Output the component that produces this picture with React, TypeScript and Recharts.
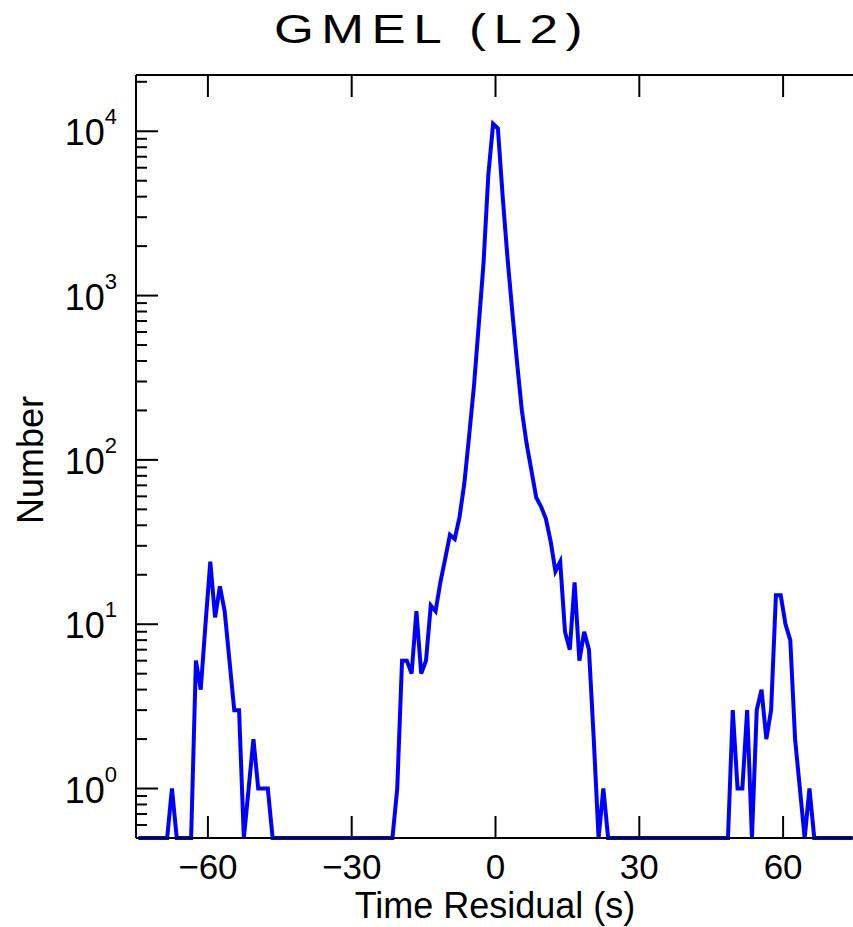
import { LineChart, Line, XAxis, YAxis } from "recharts";

// histogram of time residuals, 1 s bins, first bin centred at -74.5 s
const BIN_START = -74.5;
const COUNTS = [
  0, 0, 0, 0, 0, 0, 0, 1, 0, 0,
  0, 0, 6, 4, 10, 24, 11, 17, 12, 6,
  3, 3, 0, 1, 2, 1, 1, 1, 0, 0,
  0, 0, 0, 0, 0, 0, 0, 0, 0, 0,
  0, 0, 0, 0, 0, 0, 0, 0, 0, 0,
  0, 0, 0, 0, 1, 6, 6, 5, 12, 5,
  6, 13, 12, 18, 25, 35, 33, 45, 72, 140,
  280, 660, 1570, 5400, 11100, 10400, 4000, 1700, 800, 390,
  200, 125, 86, 59, 52, 44, 32, 21, 24, 9,
  7, 18, 6, 9, 7, 2, 0, 1, 0, 0,
  0, 0, 0, 0, 0, 0, 0, 0, 0, 0,
  0, 0, 0, 0, 0, 0, 0, 0, 0, 0,
  0, 0, 0, 0, 3, 1, 1, 3, 0, 3,
  4, 2, 3, 15, 15, 10, 8, 2, 1, 0,
  1, 0, 0, 0, 0, 0, 0, 0, 0, 0,
];

const X_TICKS = [-60, -30, 0, 30, 60];
const Y_DECADES = [1, 10, 100, 1000, 10000];
const Y_MIN = 0.5;
const Y_MAX = 22000;

const FONT = "'Liberation Sans', Arial, Helvetica, sans-serif";

// empty bins sit on the bottom of the log axis
const rows = COUNTS.map((c, i) => ({ t: BIN_START + i, n: Math.max(c, Y_MIN) }));

const yTicks: number[] = [];
[0.1, 1, 10, 100, 1000, 10000].forEach((d) => {
  for (let m = 1; m <= 9; m++) {
    const v = +(d * m).toPrecision(3);
    if (v > Y_MIN && v < Y_MAX) yTicks.push(v);
  }
});

const isMajor = (v: number) => Y_DECADES.includes(v);

function BottomTick({ x, y, payload }: any) {
  const v = payload.value;
  return (
    <g>
      <line x1={x} x2={x} y1={y} y2={y - 22} stroke="#000" strokeWidth={2} />
      <text x={x} y={y + 41} textAnchor="middle" fontSize={35} fontFamily={FONT} fill="#000">
        {v < 0 ? `\u2212${-v}` : `${v}`}
      </text>
    </g>
  );
}

function TopTick({ x, y }: any) {
  return <line x1={x} x2={x} y1={y} y2={y + 22} stroke="#000" strokeWidth={2} />;
}

function LeftTick({ x, y, payload }: any) {
  const v = payload.value;
  const major = isMajor(v);
  return (
    <g>
      <line x1={x} x2={x + (major ? 22 : 11)} y1={y} y2={y} stroke="#000" strokeWidth={2} />
      {major && (
        <text x={117} y={y + 14} textAnchor="end" fontSize={36} fontFamily={FONT} fill="#000">
          10
          <tspan fontSize={22} dy={-21}>
            {Math.round(Math.log10(v))}
          </tspan>
        </text>
      )}
    </g>
  );
}

function RightTick({ x, y, payload }: any) {
  const major = isMajor(payload.value);
  return <line x1={x} x2={x - (major ? 22 : 11)} y1={y} y2={y} stroke="#000" strokeWidth={2} />;
}

export default function App() {
  const axisLine = { stroke: "#000", strokeWidth: 2 };
  return (
    <div
      style={{
        position: "absolute",
        left: 0,
        top: 0,
        width: 853,
        height: 927,
        overflow: "hidden",
        background: "#fff",
      }}
    >
      <LineChart width={870} height={927} data={rows} margin={{ top: 0, right: 0, bottom: 0, left: 0 }}>
        <XAxis
          dataKey="t"
          type="number"
          domain={[-75, 75]}
          ticks={X_TICKS}
          interval={0}
          height={89}
          tickSize={0}
          tickMargin={0}
          axisLine={axisLine}
          tick={<BottomTick />}
        />
        <XAxis
          xAxisId="top"
          orientation="top"
          dataKey="t"
          type="number"
          domain={[-75, 75]}
          ticks={X_TICKS}
          interval={0}
          height={75}
          tickSize={0}
          tickMargin={0}
          axisLine={axisLine}
          tick={<TopTick />}
        />
        <YAxis
          scale="log"
          type="number"
          domain={[Y_MIN, Y_MAX]}
          ticks={yTicks}
          interval={0}
          width={136}
          tickSize={0}
          tickMargin={0}
          axisLine={axisLine}
          tick={<LeftTick />}
        />
        <YAxis
          yAxisId="right"
          orientation="right"
          scale="log"
          type="number"
          domain={[Y_MIN, Y_MAX]}
          ticks={yTicks}
          interval={0}
          width={15}
          tickSize={0}
          tickMargin={0}
          axisLine={axisLine}
          tick={<RightTick />}
        />
        <Line
          type="linear"
          dataKey="n"
          stroke="#0000ff"
          strokeWidth={4}
          dot={false}
          isAnimationActive={false}
        />
      </LineChart>
      <svg
        width={853}
        height={927}
        style={{ position: "absolute", left: 0, top: 0, pointerEvents: "none" }}
        fontFamily={FONT}
      >
        <text transform="translate(274 43) scale(1.25 1)" fontSize={41} letterSpacing={6} fill="#000">
          GMEL (L2)
        </text>
        <text x={495} y={918} textAnchor="middle" fontSize={36} fill="#000">
          Time Residual (s)
        </text>
        <text x={43} y={460} textAnchor="middle" fontSize={36} fill="#000" transform="rotate(-90 43 460)">
          Number
        </text>
      </svg>
    </div>
  );
}
